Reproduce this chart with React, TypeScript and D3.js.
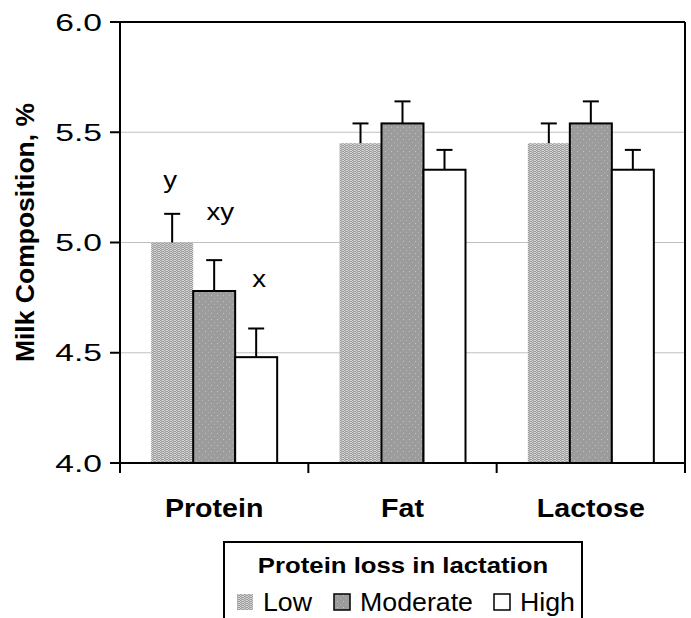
import React from "react";
import * as d3 from "d3";

const categories = ["Protein", "Fat", "Lactose"];
const levels = ["Low", "Moderate", "High"];
const lowValues = [5.0, 5.45, 5.45];
const moderateValues = [4.78, 5.54, 5.54];
const highValues = [4.48, 5.33, 5.33];
const lowErr = [0.13, 0.09, 0.09];
const moderateErr = [0.14, 0.1, 0.1];
const highErr = [0.13, 0.09, 0.09];
const sigLetters = [["y", "xy", "x"], ["", "", ""], ["", "", ""]];
const yTicks = [4.0, 4.5, 5.0, 5.5, 6.0];

const width = 691;
const height = 618;
const margin = { top: 22, right: 6, bottom: 155, left: 120 };
const font = "'Liberation Sans', Arial, sans-serif";

// text drawn a bit wider than the font, as in the scanned figure
function T(props: {
  x: number;
  y: number;
  size: number;
  sx?: number;
  anchor?: string;
  bold?: boolean;
  children: React.ReactNode;
}) {
  const { x, y, size, sx = 1, anchor = "start", bold = false, children } = props;
  return (
    <text
      transform={`translate(${x},${y}) scale(${sx},1)`}
      textAnchor={anchor}
      fontFamily={font}
      fontSize={size}
      fontWeight={bold ? "bold" : "normal"}
    >
      {children}
    </text>
  );
}

export default function App() {
  const innerRight = width - margin.right;
  const innerBottom = height - margin.bottom;

  const x = d3.scaleBand().domain(categories).range([margin.left, innerRight]);
  const groupWidth = 126;
  const xs = d3.scaleBand().domain(levels).range([0, groupWidth]);
  const y = d3.scaleLinear().domain([4, 6]).range([innerBottom, margin.top]);

  const values = [lowValues, moderateValues, highValues];
  const errs = [lowErr, moderateErr, highErr];
  const fills = ["url(#patLow)", "url(#patMod)", "#fff"];
  const strokes = ["none", "#000", "#000"];
  const letterDy = [-26, -40, -41];
  const letterDx = [-2, 6, 3];

  const bars = categories.flatMap((c, ci) =>
    levels.map((l, li) => {
      const x0 = (x(c) as number) + (x.bandwidth() - groupWidth) / 2 + (xs(l) as number);
      return { c, ci, l, li, x0, v: values[li][ci], e: errs[li][ci] };
    })
  );

  return (
    <svg width={width} height={height} style={{ position: "absolute", left: 0, top: 0, background: "#fff" }}>
      <defs>
        <pattern id="patLow" width="4" height="4" patternUnits="userSpaceOnUse">
          <rect width="4" height="4" fill="#d6d6d6" />
          <rect x="0" y="0" width="2" height="1" fill="#9a9a9a" />
          <rect x="2" y="1" width="2" height="1" fill="#9a9a9a" />
          <rect x="0" y="2" width="2" height="1" fill="#9a9a9a" />
          <rect x="2" y="3" width="2" height="1" fill="#9a9a9a" />
          <rect x="1" y="0" width="1" height="4" fill="#b0b0b0" />
        </pattern>
        <pattern id="patMod" width="6" height="6" patternUnits="userSpaceOnUse">
          <rect width="6" height="6" fill="#9c9c9c" />
          <rect x="1" y="1" width="1" height="1" fill="#c4c4c4" />
          <rect x="4" y="4" width="1" height="1" fill="#b4b4b4" />
        </pattern>
      </defs>

      {/* gridlines */}
      {yTicks.slice(1, -1).map((t) => (
        <line key={t} x1={margin.left} x2={innerRight} y1={y(t)} y2={y(t)} stroke="#c0c0c0" strokeWidth={1.2} />
      ))}

      {/* bars */}
      {bars.map((b) => (
        <rect
          key={b.c + b.l}
          x={b.x0}
          y={y(b.v)}
          width={xs.bandwidth()}
          height={innerBottom - y(b.v)}
          fill={fills[b.li]}
          stroke={strokes[b.li]}
          strokeWidth={2}
        />
      ))}

      {/* error bars */}
      {bars.map((b) => {
        const cx = b.x0 + xs.bandwidth() / 2;
        return (
          <g key={"e" + b.c + b.l} stroke="#000" strokeWidth={2}>
            <line x1={cx} x2={cx} y1={y(b.v)} y2={y(b.v + b.e)} />
            <line x1={cx - 8} x2={cx + 8} y1={y(b.v + b.e)} y2={y(b.v + b.e)} />
          </g>
        );
      })}

      {/* significance letters */}
      {bars.map((b) =>
        sigLetters[b.ci][b.li] ? (
          <T
            key={"s" + b.c + b.l}
            x={b.x0 + xs.bandwidth() / 2 + letterDx[b.li]}
            y={y(b.v + b.e) + letterDy[b.li]}
            anchor="middle"
            size={23}
            sx={1.2}
          >
            {sigLetters[b.ci][b.li]}
          </T>
        ) : null
      )}

      {/* frame */}
      <g stroke="#000" strokeWidth={2} fill="none">
        <line x1={margin.left - 10} x2={innerRight} y1={margin.top} y2={margin.top} />
        <line x1={margin.left - 10} x2={innerRight} y1={innerBottom} y2={innerBottom} />
        <line x1={margin.left} x2={margin.left} y1={margin.top} y2={innerBottom + 10} />
        <line x1={innerRight} x2={innerRight} y1={margin.top} y2={innerBottom + 10} />
        {yTicks.map((t) => (
          <line key={t} x1={margin.left - 10} x2={margin.left} y1={y(t)} y2={y(t)} />
        ))}
        {categories.slice(1).map((c) => (
          <line key={c} x1={x(c)} x2={x(c)} y1={innerBottom} y2={innerBottom + 10} />
        ))}
      </g>

      {/* y tick labels */}
      {yTicks.map((t) => (
        <T key={t} x={margin.left - 18} y={y(t) + 8.5} anchor="end" size={24} sx={1.4}>
          {d3.format(".1f")(t)}
        </T>
      ))}

      {/* x labels */}
      {categories.map((c) => (
        <T key={c} x={(x(c) as number) + x.bandwidth() / 2} y={517} anchor="middle" size={26} sx={1.1} bold>
          {c}
        </T>
      ))}

      {/* y title */}
      <text
        transform={`translate(34,${(margin.top + innerBottom) / 2 - 10}) rotate(-90)`}
        textAnchor="middle"
        fontFamily={font}
        fontSize={26.5}
        fontWeight="bold"
      >
        Milk Composition, %
      </text>

      {/* legend */}
      <rect x={224} y={542} width={358} height={90} fill="#fff" stroke="#000" strokeWidth={2} />
      <T x={403} y={573} anchor="middle" size={22} sx={1.17} bold>
        Protein loss in lactation
      </T>
      {levels.map((l, i) => {
        const sx = [237, 334, 494][i];
        return (
          <g key={l}>
            <rect x={sx} y={594} width={16} height={16} fill={fills[i]} stroke={strokes[i]} strokeWidth={1.5} />
            <T x={sx + 26} y={611} size={25} sx={1.07}>
              {l}
            </T>
          </g>
        );
      })}
    </svg>
  );
}
